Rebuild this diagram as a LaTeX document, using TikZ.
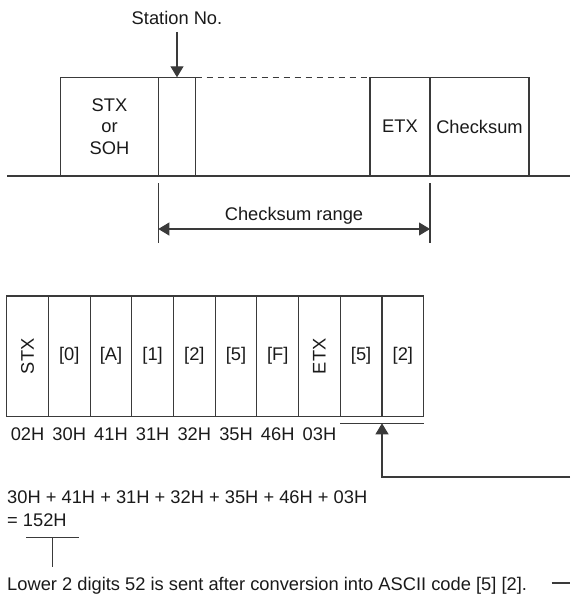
\documentclass[tikz,border=0pt]{standalone}
\usepackage{fontspec}
\setmainfont{Liberation Sans}
\usetikzlibrary{arrows.meta,positioning}
\definecolor{lineg}{HTML}{3A3A3A}
\definecolor{textg}{HTML}{1A1A1A}
\tikzset{
  framearr/.style={-{Triangle[length=11pt,width=13pt]}, line width=1.1pt, draw=lineg},
  rangearr/.style={{Triangle[length=11pt,width=13pt]}-{Triangle[length=11pt,width=13pt]}, line width=1.1pt, draw=lineg},
  frameline/.style={line width=1.1pt, draw=lineg},
  framelbl/.style={text=textg, inner sep=0pt},
}

\begin{document}
\begin{tikzpicture}[
  x=1pt, y=-1pt,
  font=\fontsize{18.3}{21.7}\selectfont,
  topcell/.style={frameline, text=textg, inner sep=0pt, outer sep=0pt, align=center, minimum height=98.7pt},
  rowcell/.style={frameline, text=textg, inner sep=0pt, outer sep=0pt, minimum width=41.7pt, minimum height=120.5pt},
]
  \useasboundingbox (0,0) rectangle (570,594);

  \node[topcell, minimum width=97.6pt, anchor=north west] (stx) at (60.7,77.3) {STX\\or\\SOH};
  \node[topcell, minimum width=37.4pt, right=0pt of stx] (stn) {};
  \node[topcell, minimum width=60pt, anchor=north west] (etx) at (370,77.3) {ETX};
  \node[topcell, minimum width=99pt, right=0pt of etx] (csum) {Checksum};
  \draw[frameline, dash pattern=on 6pt off 5pt] (stn.north east) -- (etx.north west);
  \coordinate (baseL) at (7.3,176);
  \coordinate (baseR) at (570,176);
  \draw[frameline] (baseL) -- (baseR);

  \node[framelbl, anchor=base] (stnlbl) at (177,24.4) {Station No.};
  \draw[framearr, shorten <=7pt] (stnlbl.south) -- (stn.north);

  \coordinate (rngLt) at (stn.south west |- 0,183);
  \coordinate (rngLb) at (stn.south west |- 0,243);
  \coordinate (rngRt) at (etx.south east |- 0,183);
  \coordinate (rngRb) at (etx.south east |- 0,243);
  \draw[frameline] (rngLt) -- (rngLb);
  \draw[frameline] (rngRt) -- (rngRb);
  \draw[rangearr] (rngLt |- 0,229) -- (rngRt |- 0,229);
  \node[framelbl, anchor=base] (rnglbl) at (294,220.4) {Checksum range};

  \foreach \lbl/\rot [count=\i] in {STX/90, {[0]}/0, {[A]}/0, {[1]}/0, {[2]}/0, {[5]}/0, {[F]}/0, ETX/90, {[5]}/0, {[2]}/0}
    \node[rowcell, anchor=north west] (cell\i) at ({6.7+(\i-1)*41.7},296) {\rotatebox{\rot}{\lbl}};
  \coordinate (hexrow) at (0,440.4);
  \foreach \hx [count=\i] in {02H, 30H, 41H, 31H, 32H, 35H, 46H, 03H}
    \node[framelbl, anchor=base] (hex\i) at (cell\i |- hexrow) {\hx};

  \path (cell9.south west) ++(0,6.8) coordinate (sumL);
  \path (cell10.south east) ++(0,6.8) coordinate (sumR);
  \draw[frameline] (sumL) -- (sumR);
  \coordinate (fbend) at (cell10.south west |- 0,477);
  \coordinate (fend) at (570,477);
  \draw[framearr] (fend) -- (fbend) -- (cell10.south west |- sumL);

  \node[framelbl, anchor=base west] (sumtxt) at (7,503.1) {30H + 41H + 31H + 32H + 35H + 46H + 03H};
  \node[framelbl, anchor=base west] (restxt) at (7,526.4) {= 152H};
  \coordinate (tickL) at (26,537.3);
  \coordinate (tickR) at (79,537.3);
  \coordinate (tickB) at (52.3,567);
  \draw[frameline] (tickL) -- (tickR);
  \draw[frameline] (tickL -| tickB) -- (tickB);
  \node[framelbl, anchor=base west] (lowtxt) at (7,590.7) {Lower 2 digits 52 is sent after conversion into ASCII code [5] [2].};
  \coordinate (lowL) at (551.7,583);
  \coordinate (lowR) at (570,583);
  \draw[frameline] (lowL) -- (lowR);
\end{tikzpicture}
\end{document}
